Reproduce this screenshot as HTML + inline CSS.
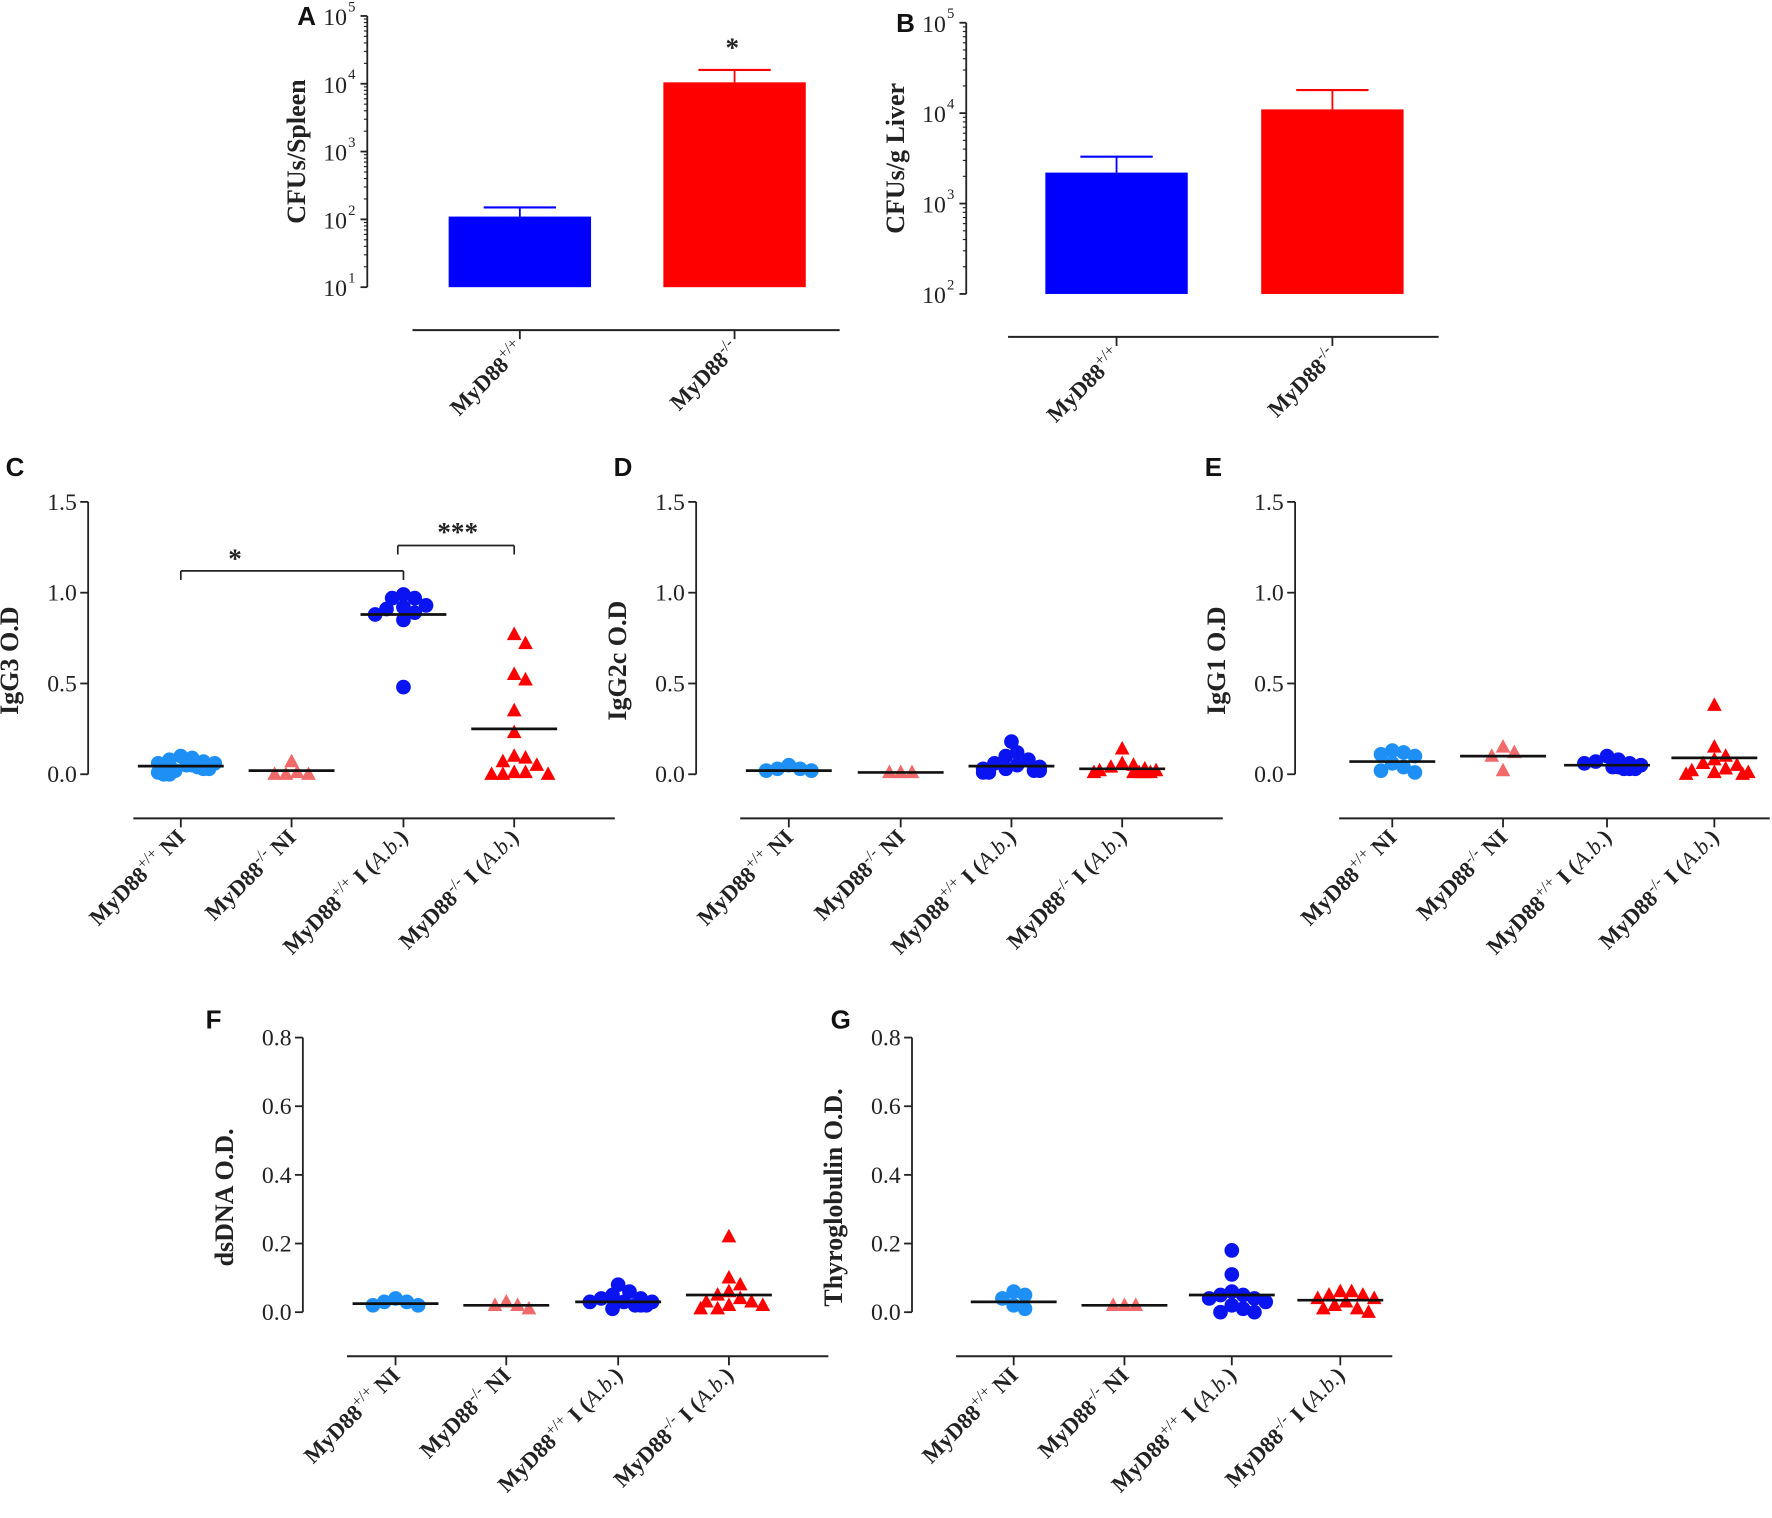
<!DOCTYPE html>
<html><head><meta charset="utf-8"><style>
html,body{margin:0;padding:0;background:#fff;}
svg{display:block;}
text{font-family:"Liberation Serif",serif;fill:#222;}
text.letter{font-family:"Liberation Sans",sans-serif;font-weight:bold;fill:#111;}
</style></head><body>
<svg id="fig" width="1772" height="1518" viewBox="0 0 1568 1343" xmlns="http://www.w3.org/2000/svg"></svg>
<script>
// ---- Bar chart data (A, B) ----
const barCats = ["MyD88+/+","MyD88-/-"];
const spleenMeans = [110, 10500];
const spleenErr = [150, 16000];
const liverMeans = [2200, 11000];
const liverErr = [3300, 18000];
// ---- Scatter chart data (C-G) ----
const scatCats = ["+/+ NI","-/- NI","+/+ I","-/- I"];
const igg3 = [[0.1,0.09,0.08,0.06,0.05,0.04,0.03,0.02,0.01,0.0,0.0,0.03,0.05,0.06,0.07],[0.07,0.0,0.0,0.0,0.01],[0.99,0.97,0.97,0.93,0.92,0.91,0.89,0.88,0.85,0.48],[0.77,0.72,0.55,0.52,0.35,0.23,0.1,0.09,0.07,0.05,0.01,0.0,0.0,0.0,0.01]];
const igg3Means = [0.045,0.02,0.88,0.25];
const igg2c = [[0.05,0.03,0.02,0.02,0.03],[0.01,0.01,0.01],[0.18,0.12,0.1,0.08,0.06,0.05,0.04,0.03,0.02,0.02,0.01,0.01,0.03],[0.14,0.06,0.05,0.04,0.03,0.02,0.02,0.01,0.01,0.01,0.01,0.01]];
const igg2cMeans = [0.02,0.01,0.045,0.03];
const igg1 = [[0.13,0.12,0.11,0.1,0.06,0.04,0.02,0.01],[0.15,0.12,0.1,0.02],[0.1,0.08,0.07,0.06,0.05,0.04,0.03,0.03,0.03,0.04,0.06],[0.38,0.15,0.1,0.08,0.06,0.05,0.02,0.01,0.0,0.0,0.01,0.03]];
const igg1Means = [0.07,0.1,0.05,0.09];
const dsdna = [[0.04,0.03,0.02,0.02,0.03],[0.03,0.02,0.02,0.01],[0.08,0.06,0.05,0.04,0.03,0.02,0.02,0.03,0.04,0.02,0.01,0.03],[0.22,0.1,0.08,0.06,0.05,0.04,0.03,0.02,0.01,0.01,0.02,0.03]];
const dsdnaMeans = [0.025,0.02,0.03,0.05];
const thyro = [[0.06,0.05,0.04,0.02,0.01],[0.02,0.02,0.02],[0.18,0.11,0.06,0.05,0.05,0.04,0.04,0.03,0.02,0.01,0.0,0.0],[0.06,0.06,0.05,0.05,0.04,0.04,0.03,0.02,0.01,0.01,0.0]];
const thyroMeans = [0.03,0.02,0.05,0.035];
const ticks15 = [0,0.5,1.0,1.5];
const ticks08 = [0,0.2,0.4,0.6,0.8];

const NS="http://www.w3.org/2000/svg";
const svg=document.getElementById('fig');
function el(tag,attrs,parent){const e=document.createElementNS(NS,tag);for(const k in attrs)e.setAttribute(k,attrs[k]);(parent||svg).appendChild(e);return e;}
function line(x1,y1,x2,y2,c,w,p){return el('line',{x1,y1,x2,y2,stroke:c||'#222','stroke-width':w||1.6},p);}
function txt(x,y,s,size,p,anchor,extra){const a={x,y,'font-size':size,'text-anchor':anchor||'start'};Object.assign(a,extra||{});const t=el('text',a,p);t.textContent=s;return t;}
const LETTER={class:'letter'};

function catLabel(g,x,y,base,sup,suffix,italic){
  const t=el('text',{x:0,y:0,'font-size':20,'font-weight':'bold','text-anchor':'end',transform:`translate(${x},${y}) rotate(-45)`},g);
  
  
  const a=el('tspan',{},t);a.textContent=base;
  const b=el('tspan',{dy:-8,'font-size':14,'font-weight':'normal'},t);b.textContent=sup;
  const c=el('tspan',{dy:8},t);c.textContent=suffix;
  if(italic){const d=el('tspan',{'font-style':'italic','font-weight':'normal'},t);d.textContent=italic;const e=el('tspan',{},t);e.textContent=')';}
}

// ---- Log bar panel ----
function barPanel(o){
  const g=el('g',{});
  
  
  const y=v=>o.yBot-(Math.log10(v)-o.dmin)/(o.dmax-o.dmin)*(o.yBot-o.yTop);
  const lt=txt(o.ax-62,o.yTop+8,o.letter,23,g,'start',LETTER);
  
  line(o.ax,o.yTop,o.ax,o.yBot,'#222',1.6,g);
  for(let d=o.dmin;d<=o.dmax;d++){
    line(o.ax-6,y(10**d),o.ax,y(10**d),'#222',1.6,g);
    txt(o.ax-18,y(10**d)+8,'10',21,g,'end',{fill:'#333'});
    txt(o.ax-17,y(10**d)-4,String(d),13,g,'start',{fill:'#333'});
    if(d<o.dmax)for(let m=2;m<10;m++)line(o.ax-3,y(m*10**d),o.ax,y(m*10**d),'#222',1,g);
  }
  const yl=el('text',{x:0,y:0,'font-size':23,'font-weight':'bold','text-anchor':'middle',transform:`translate(${o.ax-55},${(o.yTop+o.yBot)/2}) rotate(-90)`},g);
  yl.textContent=o.ylabel;
  const colors=['#0000ff','#ff0000'];
  o.means.forEach((m,i)=>{
    const cx=o.cx[i];
    line(cx,y(o.err[i]),cx,y(m),colors[i],1.6,g);
    line(cx-32,y(o.err[i]),cx+32,y(o.err[i]),colors[i],1.8,g);
    const r=el('rect',{x:cx-63,y:y(m),width:126,height:o.yBot-y(m),fill:colors[i]},g);
    
    line(cx,o.lineY,cx,o.lineY+8,'#222',1.6,g);
    catLabel(g,cx+5,o.lineY+18,'MyD88',i?'-/-':'+/+','');
  });
  line(o.lx1,o.lineY,o.lx2,o.lineY,'#222',1.8,g);
  return {g,y};
}
const A=barPanel({name:'panel-a',letter:'A',ax:325,yTop:14,yBot:254,dmin:1,dmax:5,means:spleenMeans,err:spleenErr,cx:[460,650],lineY:292,lx1:365,lx2:743,ylabel:'CFUs/Spleen'});
txt(648,50,'*',24,A.g,'middle',{'font-weight':'bold'});
barPanel({name:'panel-b',letter:'B',ax:855,yTop:20,yBot:260,dmin:2,dmax:5,means:liverMeans,err:liverErr,cx:[988,1179],lineY:298,lx1:892,lx2:1273,ylabel:'CFUs/g Liver'});

// ---- Scatter panels ----
function scatPanel(o){
  const g=el('g',{});
  
  
  const y=v=>o.y0-v/o.max*(o.y0-o.yTop);
  const lt=txt(o.lx,o.ly,o.letter,23,g,'start',LETTER);
  
  line(o.ax,o.yTop,o.ax,o.y0,'#222',1.6,g);
  o.ticks.forEach(t=>{line(o.ax-7,y(t),o.ax,y(t),'#222',1.6,g);txt(o.ax-10,y(t)+7,t.toFixed(1),21,g,'end',{fill:'#333'});});
  const yl=el('text',{x:0,y:0,'font-size':23,'font-weight':'bold','text-anchor':'middle',transform:`translate(${o.ax-62},${(o.yTop+o.y0)/2+20}) rotate(-90)`},g);
  yl.textContent=o.ylabel;
  line(o.x1,o.lineY,o.x2,o.lineY,'#222',1.8,g);
  const cols=['#1e8ff5','#f06a6a','#0a14f0','#ff0000'];
  const sup=['+/+','-/-','+/+','-/-'];
  o.data.forEach((vals,i)=>{
    const cx=o.cx[i];
    const placed=[];
    const sorted=vals.map((v,k)=>({v,k})).sort((a,b)=>b.v-a.v);
    sorted.forEach(p=>{
      const py=y(p.v);let best=null;
      for(let s=0;s<12;s++){
        const cand=(s%2?1:-1)*Math.ceil(s/2)*5;
        if(placed.every(q=>Math.hypot(q.x-cand,q.y-py)>=10)){best=cand;break;}
      }
      if(best===null){best=((placed.length%11)-5)*5;}
      const off=best;
      placed.push({x:off,y:py});
      let m;
      if(i%2===0){m=el('circle',{cx:cx+off,cy:py,r:6.5,fill:cols[i]},g);}
      else{const x=cx+off;m=el('polygon',{points:`${x},${py-7} ${x-6.5},${py+5} ${x+6.5},${py+5}`,fill:cols[i]},g);}
      
      
    });
    const ml=line(cx-38,y(o.means[i]),cx+38,y(o.means[i]),'#111',2.4,g);
    
    
    line(cx,o.lineY,cx,o.lineY+8,'#222',1.6,g);
    if(i<2)catLabel(g,cx+5,o.lineY+18,'MyD88',sup[i],' NI');
    else catLabel(g,cx+5,o.lineY+18,'MyD88',sup[i],' I (','A.b.');
  });
  return {g,y};
}
const C=scatPanel({name:'panel-c-igg3',letter:'C',lx:5,ly:421,ax:78,yTop:444,y0:685,max:1.5,ticks:ticks15,ylabel:'IgG3 O.D',data:igg3,means:igg3Means,cx:[160,258,357,455],lineY:724,x1:118,x2:544});
(function(){const g=C.g,y=C.y;
 const b1=y(1.12),b2=y(1.26);
 line(160,b1+8,160,b1,'#222',1.5,g);line(160,b1,357,b1,'#222',1.5,g);line(357,b1,357,b1+8,'#222',1.5,g);
 line(352,b2+8,352,b2,'#222',1.5,g);line(352,b2,455,b2,'#222',1.5,g);line(455,b2,455,b2+8,'#222',1.5,g);
 txt(208,b1-3,'*',24,g,'middle',{'font-weight':'bold'});
 txt(405,b2-4,'***',24,g,'middle',{'font-weight':'bold'});
})();
scatPanel({name:'panel-d-igg2c',letter:'D',lx:543,ly:421,ax:616,yTop:444,y0:685,max:1.5,ticks:ticks15,ylabel:'IgG2c O.D',data:igg2c,means:igg2cMeans,cx:[698,797,895,993],lineY:724,x1:655,x2:1082});
scatPanel({name:'panel-e-igg1',letter:'E',lx:1066,ly:421,ax:1146,yTop:444,y0:685,max:1.5,ticks:ticks15,ylabel:'IgG1 O.D',data:igg1,means:igg1Means,cx:[1232,1330,1422,1517],lineY:724,x1:1185,x2:1566});
scatPanel({name:'panel-f-dsdna',letter:'F',lx:182,ly:910,ax:268,yTop:918,y0:1161,max:0.8,ticks:ticks08,ylabel:'dsDNA O.D.',data:dsdna,means:dsdnaMeans,cx:[350,448,547,645],lineY:1200,x1:307,x2:733});
scatPanel({name:'panel-g-thyroglobulin',letter:'G',lx:735,ly:910,ax:807,yTop:918,y0:1161,max:0.8,ticks:ticks08,ylabel:'Thyroglobulin O.D.',data:thyro,means:thyroMeans,cx:[897,995,1090,1186],lineY:1200,x1:846,x2:1232});
</script>
</body></html>
